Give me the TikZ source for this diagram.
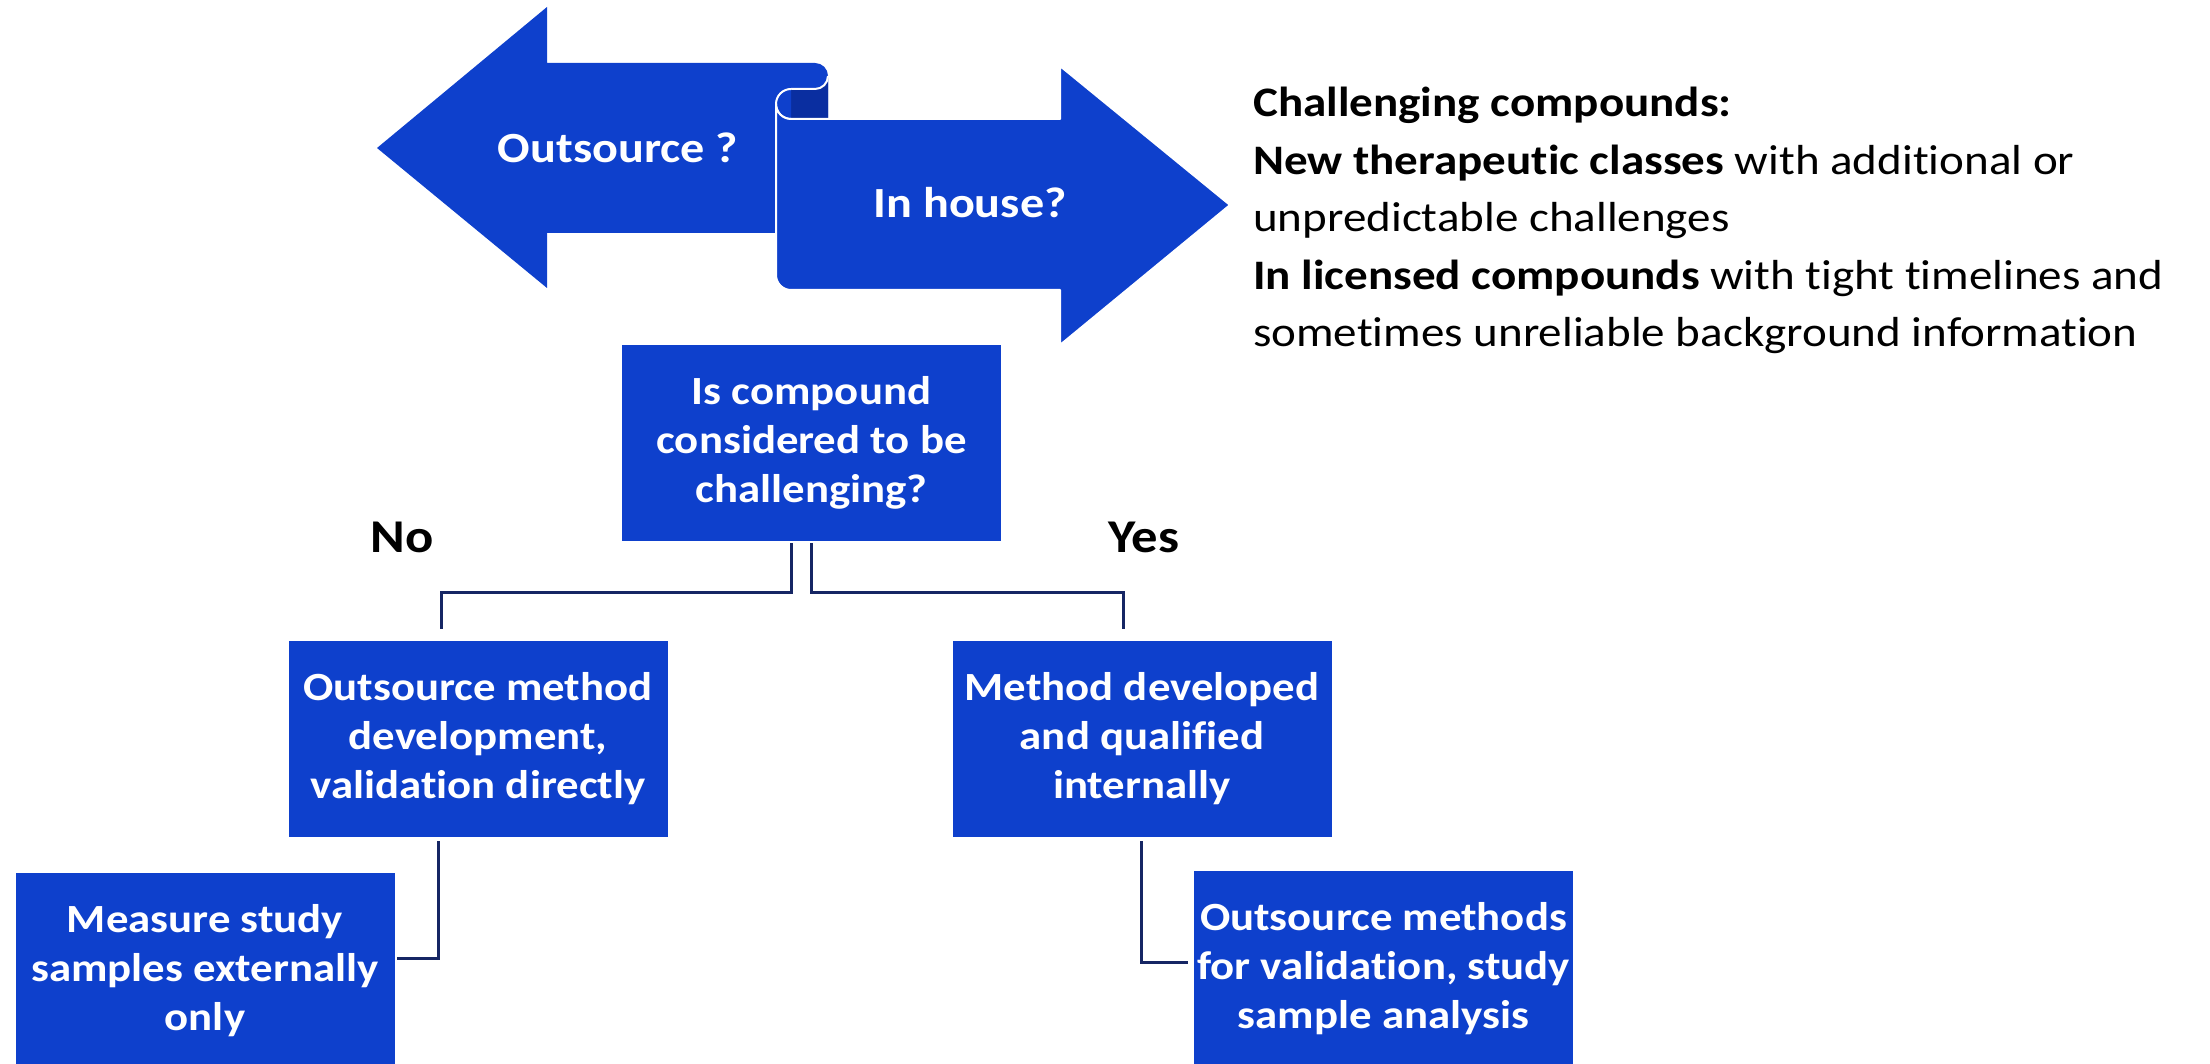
\documentclass[tikz,border=0pt]{standalone}
\usepackage{fontspec}
\setmainfont{Carlito}[FakeStretch=1.12, Ligatures={NoCommon}]
\usetikzlibrary{calc}
\definecolor{boxblue}{RGB}{14,64,204}
\definecolor{rolldark}{RGB}{10,46,160}
\definecolor{linknavy}{RGB}{22,38,100}

\begin{document}
\begin{tikzpicture}[x=1pt,y=-1pt,
  decision/.style={fill=boxblue, draw=none, minimum width=379pt, minimum height=196pt,
    inner sep=0pt, align=center, text=white,
    font=\fontsize{40}{49}\selectfont\bfseries},
  link/.style={draw=linknavy, line width=3pt},
  arrowtext/.style={text=white, inner sep=0pt, font=\fontsize{43}{52}\selectfont\bfseries},
  answer/.style={inner sep=0pt, font=\fontsize{47}{54}\selectfont\bfseries},
  rimline/.style={draw=white, line width=2pt, line join=round}]

\useasboundingbox (0,0) rectangle (2210,1064);
\clip (0,0) rectangle (2210,1064);

% left-pointing arrow with rolled top edge
\fill[boxblue] (377,148) -- (547,7) -- (547,63) -- (815,63)
  arc[start angle=270,end angle=360,radius=13] -- (828,119) -- (776,119)
  -- (776,233) -- (547,233) -- (547,288) -- cycle;
% inner side of the roll
\fill[rolldark] (828,76) arc[start angle=0,end angle=90,radius=13]
  -- (791,89) -- (791,119) -- (828,119) -- cycle;
\draw[rimline] (828,76) arc[start angle=0,end angle=90,radius=13] -- (791,89);
% front of the roll
\fill[boxblue] (791,89) arc[start angle=270,end angle=90,radius=15];
\draw[rimline] (791,89) arc[start angle=270,end angle=90,radius=15];
% right-pointing scroll arrow
\filldraw[boxblue, rimline] (776,104) -- (776,275)
  arc[start angle=180,end angle=90,radius=15] -- (1060,290) -- (1060,345)
  -- (1230,205) -- (1060,66) -- (1060,119) -- (791,119)
  arc[start angle=90,end angle=180,radius=15] -- cycle;

\node[arrowtext] (out) at (618,148) {Outsource ?};
\node[arrowtext] (inh) at (970,203) {In house?};

% explanatory text
\node[anchor=north west, inner sep=0pt, align=left,
  font=\fontsize{42}{57.5}\selectfont] (info) at (1253,87)
  {\textbf{Challenging compounds:}\\
   \textbf{New therapeutic classes} with additional or\\
   unpredictable challenges\\
   \textbf{In licensed compounds} with tight timelines and\\
   sometimes unreliable background information};

% decision tree
\node[decision] (q) at (811.5,443) {Is compound\\considered to be\\challenging?};
\node[decision] (A) at (478,739) {Outsource method\\development,\\validation directly};
\node[decision] (B) at (1142,739) {Method developed\\and qualified\\internally};
\node[decision] (C) at (205,971) {Measure study\\samples externally\\only};
\node[decision] (D) at (1383.5,969) {Outsource methods\\for validation, study\\sample analysis};

\node[answer] (no) at (402,537) {No};
\node[answer] (yes) at (1144,537) {Yes};

\coordinate (qL) at ($(q.south)+(-20,2)$);
\coordinate (qR) at ($(q.south)+(0,2)$);
\coordinate (aTop) at ($(A.north)+(-37,-12)$);
\coordinate (bTop) at ($(B.north)+(-19,-12)$);
\coordinate (aBot) at ($(A.south)+(-40,4)$);
\coordinate (bBot) at ($(B.south)+(-1,4)$);
\coordinate (cEnd) at ($(C.east)+(2,-13)$);
\coordinate (dEnd) at ($(D.west)+(-6,-7)$);

\draw[link] (qL) -- ++(0,49) -| (aTop);
\draw[link] (qR) -- ++(0,49) -| (bTop);
\draw[link] (aBot) |- (cEnd);
\draw[link] (bBot) |- (dEnd);
\end{tikzpicture}
\end{document}
